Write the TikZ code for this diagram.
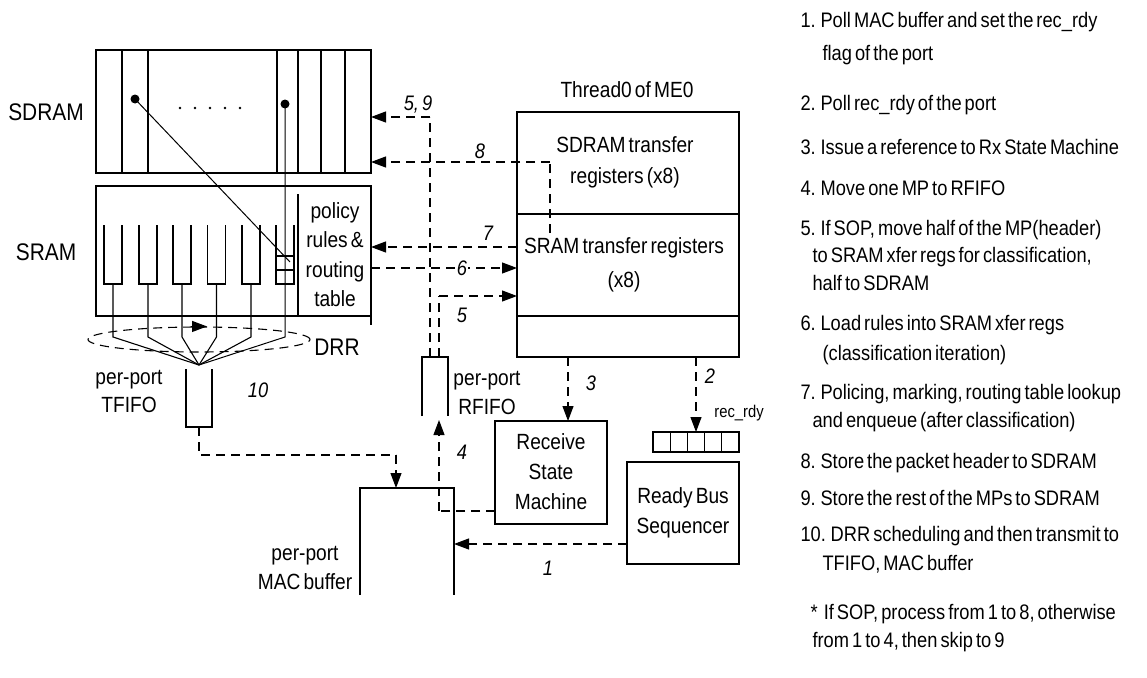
\documentclass[tikz,border=0pt]{standalone}
\usepackage{fontspec}
\setmainfont{Liberation Sans}[FakeStretch=0.87, WordSpace=0.6]
\usetikzlibrary{arrows.meta,shapes.geometric,calc}
\newcommand{\fsA}{\fontsize{22}{30}\selectfont}
\newcommand{\fsB}{\fontsize{24}{30}\selectfont}
\newcommand{\fsL}{\fontsize{21}{28}\selectfont}
\newcommand{\fsN}{\fontsize{21}{28}\selectfont\itshape}
\newcommand{\fsS}{\fontsize{17}{20}\selectfont}
\tikzset{
  lbl/.style={inner sep=0pt, font=\fsA, align=center},
  big/.style={inner sep=0pt, font=\fsB},
  num/.style={inner sep=0pt, font=\fsN},
  lst/.style={inner sep=0pt, anchor=base west, font=\fsL},
  solidbox/.style={draw, line width=1.1pt, inner sep=0pt, outer sep=0pt},
  ghost/.style={inner sep=0pt, outer sep=0pt},
  dl/.style={line width=1.1pt, dash pattern=on 9pt off 6pt},
  arr/.style={-{Triangle[length=15pt,width=11pt]}},
  dotnode/.style={circle, fill, inner sep=0pt, minimum size=9pt},
}
\begin{document}
\begin{tikzpicture}[x=1pt, y=-1pt, line width=1.1pt]
\useasboundingbox (0,0) rectangle (1147,677);

% ---------- SDRAM ----------
\node[solidbox, minimum width=275pt, minimum height=123pt] (sdram) at (233.5,111.5) {};
\foreach \x in {122,148,277,298,321,345} \draw (\x,50) -- (\x,173);
\node[dotnode] (d1) at (135,99) {};
\node[dotnode] (d2) at (285,104) {};
\foreach \x in {180,195,210,225,240} \fill (\x,108) circle (1.4pt);
\node[big] (lsdram) at (46,112) {SDRAM};

% ---------- SRAM ----------
\node[solidbox, minimum width=275pt, minimum height=130pt] (sram) at (233.5,251) {};
\draw (sram.south east) -- ++(0,9);
\draw (298,194) -- (298,316);
\node[big] (lsram) at (46,252) {SRAM};
\node[lbl, font=\fontsize{22}{29.5}\selectfont] (policy) at (335,254.5) {policy\\rules \&\\routing\\table};

\coordinate (fan) at (0,337);
\coordinate (conv) at (199,365);
\foreach \i/\x in {1/113,2/148,3/182,4/216.5,5/251,6/285} {
  \node[ghost, minimum width=18pt, minimum height=59pt] (q\i) at (\x,254.5) {};
  \draw (q\i.north west) -- (q\i.south west) -- (q\i.south east) -- (q\i.north east);
}
\foreach \i in {1,...,5} \draw (q\i.south) -- (q\i.south |- fan) -- (conv);
\draw (276,256) -- (294,256);
\draw (276,270) -- (294,270);
\draw[line width=1pt] (d2.center) -- (d2.center |- fan) -- (conv);
\coordinate (diagend) at (290,262);
\draw[line width=1pt] (d1.center) -- (diagend);

% ---------- DRR ----------
\node[ellipse, draw, dl, minimum width=222pt, minimum height=25pt, inner sep=0pt] (drr) at (199,339.5) {};
\draw[arr] ([xshift=-8pt]drr.north) -- ([xshift=8pt]drr.north);
\node[big] (ldrr) at (337,347) {DRR};

% ---------- TFIFO ----------
\node[ghost, minimum width=26pt, minimum height=58pt] (tfifo) at (199,398) {};
\draw (tfifo.north west) -- (tfifo.south west) -- (tfifo.south east) -- (tfifo.north east);
\node[lbl, font=\fontsize{22}{28}\selectfont] (ltfifo) at (129,391) {per-port\\TFIFO};
\node[num] (n10) at (258,390) {10};

% ---------- MAC buffer ----------
\node[ghost, minimum width=94pt, minimum height=107pt] (mac) at (407,541.5) {};
\draw (mac.south west) -- (mac.north west) -- (mac.north east) -- (mac.south east);
\node[lbl, font=\fontsize{22}{29}\selectfont] (lmac) at (305,567.5) {per-port\\MAC buffer};

\coordinate (c10) at (396,455);
\draw[dl] (tfifo.south) |- (c10);
\draw[dl, arr] (c10) -- (c10 |- mac.north);

% ---------- RFIFO ----------
\node[ghost, minimum width=26pt, minimum height=59pt] (rfifo) at (435,386.5) {};
\draw (rfifo.south west) -- (rfifo.north west) -- (rfifo.north east) -- (rfifo.south east);
\node[lbl, font=\fontsize{22}{29}\selectfont] (lrfifo) at (487,392.5) {per-port\\RFIFO};

% ---------- Thread box ----------
\node[solidbox, minimum width=222pt, minimum height=245pt] (thread) at (628,234.5) {};
\draw (thread.west |- 0,214) -- (thread.east |- 0,214);
\draw (thread.west |- 0,316) -- (thread.east |- 0,316);
\node[lbl] (lthread) at (627,90) {Thread0 of ME0};
\node[lbl, font=\fontsize{22}{31}\selectfont] (lsdx) at (625,162.5) {SDRAM transfer\\registers (x8)};
\node[lbl, font=\fontsize{22}{34}\selectfont] (lsrx) at (624,265) {SRAM transfer registers\\(x8)};

% ---------- RSM / RBS / rec_rdy ----------
\node[solidbox, minimum width=112pt, minimum height=103pt] (rsm) at (551,472.5) {};
\node[lbl] (lrsm) at (551,472) {Receive\\State\\Machine};
\node[solidbox, minimum width=112pt, minimum height=102pt] (rbs) at (683,513) {};
\node[lbl] (lrbs) at (683,513) {Ready Bus\\Sequencer};
\node[solidbox, minimum width=86pt, minimum height=20pt] (cells) at (696,442) {};
\foreach \x in {670.2,687.4,704.6,721.8} \draw (\x,432) -- (\x,452);
\node[inner sep=0pt, font=\fsS] (lrec) at (739,413) {rec\_rdy};

% ---------- connectors ----------
\coordinate (y117) at (0,117);
\coordinate (y162) at (0,162);
\coordinate (y247) at (0,247);
\coordinate (y268) at (0,268);
\coordinate (y296) at (0,296);
\coordinate (y511) at (0,511);
\coordinate (y544) at (0,544);
\coordinate (x430) at (430,0);
\coordinate (x439) at (439,0);
\coordinate (x550) at (550,0);
\coordinate (x568) at (568,0);
\coordinate (x696) at (696,0);

% 5,9
\draw[dl] (rfifo.north -| x430) -- (x430 |- y117);
\draw[dl, arr] (x430 |- y117) -- (sdram.east |- y117);
\node[num] (n59) at (418,105) {5, 9};
% 5
\draw[dl] (rfifo.north -| x439) -- (x439 |- y296);
\draw[dl, arr] (x439 |- y296) -- (thread.west |- y296);
\node[num] (n5) at (462,315) {5};
% 6
\draw[dl, arr] (sram.east |- y268) -- (thread.west |- y268);
\node[num, fill=white, inner sep=1pt] (n6) at (462,268) {6};
% 7
\draw[dl, arr] (thread.west |- y247) -- (sram.east |- y247);
\node[num] (n7) at (488,233) {7};
% 8
\coordinate (c8) at (550,233);
\draw[dl] (c8) -- (x550 |- y162);
\draw[dl, arr] (x550 |- y162) -- (sdram.east |- y162);
\node[num] (n8) at (480,151) {8};
% 3
\draw[dl, arr] (thread.south -| x568) -- (rsm.north -| x568);
\node[num] (n3) at (591,383) {3};
% 2
\draw[dl, arr] (thread.south -| x696) -- (cells.north);
\node[num] (n2) at (710,376) {2};
% 4
\draw[dl] (rsm.west |- y511) -- (x439 |- y511);
\draw[dl, arr] (x439 |- y511) -- ([yshift=-4pt]rfifo.south -| x439);
\node[num] (n4) at (462,452) {4};
% 1
\draw[dl, arr] (rbs.west |- y544) -- (mac.east |- y544);
\node[num] (n1) at (548,568) {1};

% ---------- legend ----------
\node[lst] (t1) at (800,27.5) {1. Poll MAC buffer and set the rec\_rdy};
\node[lst] (t1b) at (822,60.5) {flag of the port};
\node[lst] (t2) at (800,110.5) {2. Poll rec\_rdy of the port};
\node[lst] (t3) at (800,154.5) {3. Issue a reference to Rx State Machine};
\node[lst] (t4) at (800,195.5) {4. Move one MP to RFIFO};
\node[lst] (t5) at (800,235.5) {5. If SOP, move half of the MP(header)};
\node[lst] (t5b) at (812,262.5) {to SRAM xfer regs for classification,};
\node[lst] (t5c) at (812,290.5) {half to SDRAM};
\node[lst] (t6) at (800,330.5) {6. Load rules into SRAM xfer regs};
\node[lst] (t6b) at (822,360.5) {(classification iteration)};
\node[lst] (t7) at (800,399.5) {7. Policing, marking, routing table lookup};
\node[lst] (t7b) at (812,427.5) {and enqueue (after classification)};
\node[lst] (t8) at (800,468.5) {8. Store the packet header to SDRAM};
\node[lst] (t9) at (800,505.5) {9. Store the rest of the MPs to SDRAM};
\node[lst] (t10) at (800,541.5) {10. DRR scheduling and then transmit to};
\node[lst] (t10b) at (822,570.5) {TFIFO, MAC buffer};
\node[lst] (tst) at (810,619.5) {*\ \ If SOP, process from 1 to 8, otherwise};
\node[lst] (tstb) at (812,647.5) {from 1 to 4, then skip to 9};
\end{tikzpicture}
\end{document}
